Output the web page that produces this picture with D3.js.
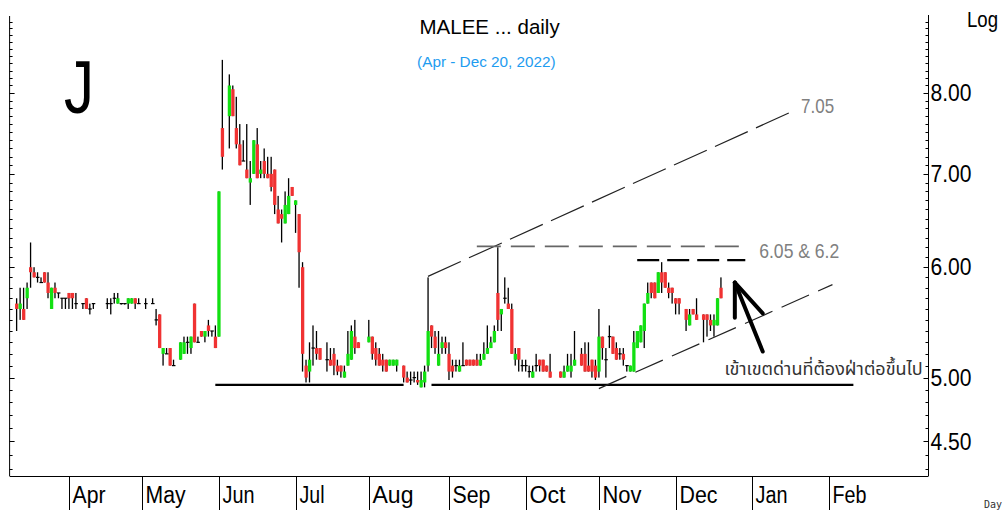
<!DOCTYPE html>
<html><head><meta charset="utf-8">
<script src="https://cdn.jsdelivr.net/npm/d3@7"></script>
<style>body{margin:0;background:#fff;} svg{display:block;}</style>
</head><body>
<svg id="c" width="1004" height="510"></svg>
<script>
// ---------- data ----------
const dates = ["2022-03-11","2022-03-14","2022-03-15","2022-03-16","2022-03-17","2022-03-18","2022-03-21","2022-03-22","2022-03-23","2022-03-24","2022-03-25","2022-03-28","2022-03-29","2022-03-30","2022-03-31","2022-04-01","2022-04-04","2022-04-05","2022-04-07","2022-04-08","2022-04-11","2022-04-12","2022-04-18","2022-04-19","2022-04-20","2022-04-21","2022-04-22","2022-04-25","2022-04-26","2022-04-27","2022-04-28","2022-04-29","2022-05-03","2022-05-05","2022-05-06","2022-05-09","2022-05-10","2022-05-11","2022-05-12","2022-05-13","2022-05-17","2022-05-18","2022-05-19","2022-05-20","2022-05-23","2022-05-24","2022-05-25","2022-05-26","2022-05-27","2022-05-30","2022-05-31","2022-06-01","2022-06-02","2022-06-06","2022-06-07","2022-06-08","2022-06-09","2022-06-10","2022-06-13","2022-06-14","2022-06-15","2022-06-16","2022-06-17","2022-06-20","2022-06-21","2022-06-22","2022-06-23","2022-06-24","2022-06-27","2022-06-28","2022-06-29","2022-06-30","2022-07-01","2022-07-04","2022-07-05","2022-07-06","2022-07-07","2022-07-08","2022-07-11","2022-07-12","2022-07-14","2022-07-15","2022-07-18","2022-07-19","2022-07-20","2022-07-21","2022-07-22","2022-07-25","2022-07-26","2022-07-27","2022-08-01","2022-08-02","2022-08-03","2022-08-04","2022-08-05","2022-08-08","2022-08-09","2022-08-10","2022-08-11","2022-08-15","2022-08-16","2022-08-17","2022-08-18","2022-08-19","2022-08-22","2022-08-23","2022-08-24","2022-08-25","2022-08-26","2022-08-29","2022-08-30","2022-08-31","2022-09-01","2022-09-02","2022-09-05","2022-09-06","2022-09-07","2022-09-08","2022-09-09","2022-09-12","2022-09-13","2022-09-14","2022-09-15","2022-09-16","2022-09-19","2022-09-20","2022-09-21","2022-09-22","2022-09-23","2022-09-26","2022-09-27","2022-09-28","2022-09-29","2022-09-30","2022-10-03","2022-10-04","2022-10-05","2022-10-06","2022-10-07","2022-10-10","2022-10-11","2022-10-12","2022-10-17","2022-10-18","2022-10-19","2022-10-20","2022-10-21","2022-10-25","2022-10-26","2022-10-27","2022-10-28","2022-10-31","2022-11-01","2022-11-02","2022-11-03","2022-11-04","2022-11-07","2022-11-08","2022-11-09","2022-11-10","2022-11-11","2022-11-14","2022-11-15","2022-11-16","2022-11-17","2022-11-18","2022-11-21","2022-11-22","2022-11-23","2022-11-24","2022-11-25","2022-11-28","2022-11-29","2022-11-30","2022-12-01","2022-12-02","2022-12-06","2022-12-07","2022-12-08","2022-12-09","2022-12-13","2022-12-14","2022-12-15","2022-12-16","2022-12-19","2022-12-20"];
const open  = [5.65,5.60,5.60,5.70,6.00,5.95,5.90,5.85,5.95,5.85,5.60,5.80,5.75,5.70,5.70,5.75,5.75,5.65,5.65,5.70,5.60,5.65,5.65,5.65,5.70,5.65,5.65,5.65,5.65,5.65,5.70,5.65,5.65,5.65,5.50,5.55,5.20,5.20,5.25,5.10,5.15,5.20,5.30,5.25,5.65,5.30,5.40,5.35,5.45,5.40,5.35,5.35,7.55,7.70,8.05,7.55,7.35,7.15,7.05,6.90,7.00,7.35,7.00,7.15,7.00,7.00,7.05,6.60,6.55,6.45,6.55,6.85,6.65,6.55,6.00,5.10,5.05,5.25,5.25,5.25,5.15,5.15,5.20,5.10,5.10,5.00,5.10,5.15,5.35,5.30,5.30,5.35,5.25,5.20,5.15,5.15,5.10,5.10,5.10,5.10,5.00,4.98,5.00,4.98,4.92,4.96,5.10,5.45,5.35,5.10,5.25,5.30,5.20,5.10,5.10,5.05,5.10,5.15,5.15,5.15,5.15,5.10,5.15,5.20,5.25,5.30,5.75,5.55,5.70,5.65,5.60,5.15,5.25,5.10,5.10,5.05,5.00,5.10,5.15,5.15,5.10,5.05,5.05,5.00,5.05,5.05,5.10,5.20,5.20,5.10,5.15,5.10,5.05,5.35,5.15,5.35,5.35,5.25,5.20,5.20,5.10,5.05,5.05,5.25,5.30,5.40,5.65,5.85,5.85,5.75,5.95,5.95,5.80,5.80,5.70,5.70,5.60,5.45,5.60,5.55,5.55,5.55,5.50,5.45,5.45,5.80];
const high  = [5.70,5.80,5.80,5.85,6.25,6.00,5.95,5.90,5.95,5.95,5.80,5.85,5.75,5.70,5.70,5.75,5.75,5.75,5.65,5.70,5.65,5.65,5.70,5.70,5.75,5.75,5.65,5.65,5.70,5.70,5.70,5.70,5.70,5.70,5.60,5.55,5.25,5.25,5.25,5.15,5.30,5.35,5.35,5.35,5.65,5.35,5.40,5.40,5.50,5.40,5.45,6.80,8.45,8.25,8.10,7.95,7.60,7.40,7.60,7.15,7.40,7.55,7.15,7.30,7.20,7.20,7.05,6.75,6.60,6.80,6.95,6.85,6.70,6.55,6.05,5.15,5.30,5.45,5.40,5.25,5.30,5.25,5.25,5.15,5.10,5.10,5.40,5.45,5.50,5.30,5.50,5.35,5.30,5.25,5.20,5.15,5.15,5.15,5.15,5.10,5.05,5.05,5.05,5.05,5.05,5.10,5.90,5.45,5.40,5.40,5.35,5.35,5.30,5.15,5.15,5.15,5.30,5.15,5.15,5.15,5.20,5.20,5.30,5.45,5.35,5.45,6.20,5.60,5.90,5.80,5.65,5.25,5.25,5.15,5.15,5.10,5.10,5.20,5.15,5.15,5.10,5.20,5.05,5.10,5.20,5.20,5.40,5.25,5.30,5.30,5.15,5.15,5.60,5.35,5.25,5.45,5.35,5.30,5.25,5.25,5.10,5.10,5.40,5.40,5.45,5.65,5.85,5.85,5.85,5.95,6.05,5.95,5.85,5.80,5.70,5.70,5.60,5.60,5.60,5.70,5.55,5.55,5.55,5.55,5.70,5.90];
const low   = [5.40,5.50,5.50,5.60,5.80,5.90,5.85,5.85,5.85,5.70,5.60,5.70,5.70,5.60,5.60,5.60,5.60,5.60,5.60,5.60,5.55,5.60,5.60,5.55,5.65,5.65,5.65,5.65,5.60,5.65,5.60,5.65,5.60,5.65,5.45,5.25,5.10,5.20,5.10,5.10,5.15,5.20,5.20,5.20,5.30,5.30,5.35,5.30,5.35,5.35,5.25,5.35,7.05,7.30,7.70,7.30,7.10,7.15,6.95,6.65,7.00,6.95,6.95,6.95,6.95,6.80,6.55,6.45,6.25,6.45,6.55,6.75,6.35,5.80,5.05,4.96,4.96,5.10,5.15,5.15,5.05,5.10,5.02,5.02,5.00,5.00,5.10,5.15,5.20,5.25,5.30,5.15,5.10,5.10,5.05,5.05,5.10,5.10,5.05,4.96,4.96,4.94,4.96,4.94,4.92,4.92,5.05,5.25,5.20,5.10,5.20,5.20,4.98,5.00,5.05,5.05,5.10,5.10,5.10,5.10,5.10,5.10,5.15,5.20,5.25,5.30,5.40,5.40,5.65,5.60,5.20,5.10,5.05,5.05,5.05,5.00,5.00,5.05,5.05,5.05,5.05,5.00,5.00,5.00,5.05,5.00,5.10,5.10,5.05,5.05,5.00,4.98,5.00,5.15,5.00,5.25,5.20,5.15,5.15,5.10,5.05,5.05,5.05,5.25,5.30,5.25,5.65,5.70,5.70,5.75,5.75,5.80,5.70,5.65,5.55,5.55,5.40,5.45,5.55,5.50,5.30,5.35,5.40,5.35,5.45,5.70];
const close = [5.60,5.65,5.50,5.80,5.95,5.90,5.90,5.85,5.85,5.75,5.80,5.75,5.75,5.70,5.70,5.70,5.70,5.65,5.65,5.60,5.60,5.65,5.65,5.65,5.70,5.70,5.65,5.65,5.70,5.70,5.65,5.65,5.65,5.65,5.50,5.25,5.25,5.20,5.10,5.10,5.30,5.30,5.30,5.35,5.30,5.30,5.35,5.40,5.40,5.40,5.25,6.80,7.20,8.10,7.70,7.35,7.10,7.15,6.95,6.95,7.40,6.95,7.05,7.00,6.95,6.85,6.65,6.45,6.50,6.65,6.75,6.75,6.70,6.15,5.20,5.00,5.15,5.25,5.20,5.15,5.15,5.10,5.10,5.05,5.05,5.05,5.20,5.40,5.25,5.25,5.35,5.20,5.15,5.10,5.10,5.05,5.15,5.15,5.15,5.00,4.96,4.98,5.00,4.96,4.98,5.05,5.40,5.35,5.25,5.20,5.30,5.25,5.05,5.05,5.10,5.10,5.10,5.10,5.10,5.10,5.10,5.15,5.20,5.25,5.30,5.40,5.50,5.60,5.70,5.60,5.20,5.20,5.15,5.10,5.10,5.05,5.05,5.10,5.10,5.05,5.05,5.00,5.00,5.05,5.10,5.10,5.15,5.10,5.05,5.05,5.05,5.00,5.35,5.25,5.15,5.35,5.20,5.15,5.20,5.15,5.10,5.10,5.30,5.40,5.45,5.65,5.75,5.75,5.70,5.95,5.85,5.80,5.75,5.75,5.65,5.65,5.50,5.55,5.55,5.50,5.50,5.50,5.45,5.50,5.70,5.70];

const priceLabels = [4.5, 5, 6, 7, 8];
const priceLabelText = ["4.50", "5.00", "6.00", "7.00", "8.00"];
const minorTicks = d3.range(43, 91).map(v => v / 10);
const monthStarts = ["2022-04-01","2022-05-01","2022-06-01","2022-07-01","2022-08-01","2022-09-01","2022-10-01","2022-11-01","2022-12-01","2023-01-01","2023-02-01"];
const monthNames = ["Apr","May","Jun","Jul","Aug","Sep","Oct","Nov","Dec","Jan","Feb"];
const monthLabelWidths = [33, 40, 32, 25, 41, 38, 36, 39, 38, 32, 34];

// annotation lines (date, price)
const supportSegments = [[["2022-05-31",4.94],["2022-08-15",4.94]], [["2022-08-25",4.94],["2023-02-10",4.94]]];
const upperChannel = [["2022-08-24",5.91],["2023-01-17",7.75]];
const lowerChannel = [["2022-11-01",4.91],["2023-02-02",5.83]];
const resistance62 = [["2022-09-13",6.21],["2022-12-29",6.21]];
const resistance605 = [["2022-11-16",6.07],["2022-12-29",6.07]];
const arrowParts = [[["2023-01-05",5.22],["2022-12-26",5.85]], [["2022-12-26",5.85],["2022-12-26",5.52]], [["2022-12-26",5.85],["2023-01-05",5.56]]];

// ---------- scales ----------
const parse = d3.utcParse("%Y-%m-%d");
const origin = parse("2022-03-09");
function wIdx(s) {
  const d = parse(s);
  return d3.utcDays(origin, d).filter(t => t.getUTCDay() !== 0 && t.getUTCDay() !== 6).length;
}
const L = 9.6, R = 928.5, T = 15, B = 476;
const x = d3.scaleLinear().domain([0, 263.4]).range([L, 928]);
const y = d3.scaleLog().domain([4.25, 9.1]).range([B, T]);

const svg = d3.select("#c");
const SANS = "'Liberation Sans',Arial,sans-serif";

// frame
svg.append("line").attr("x1", L).attr("x2", L).attr("y1", T + 1).attr("y2", B).attr("stroke", "#000");
svg.append("line").attr("x1", R).attr("x2", R).attr("y1", T).attr("y2", B).attr("stroke", "#000");
svg.append("line").attr("x1", L).attr("x2", R).attr("y1", B + 0.5).attr("y2", B + 0.5).attr("stroke", "#000");

// ticks
const tg = svg.append("g").attr("stroke", "#000").attr("stroke-width", 1);
minorTicks.forEach(v => {
  const yy = Math.round(y(v)) + 0.5;
  const major = priceLabels.some(p => Math.abs(p - v) < 1e-6);
  tg.append("line").attr("x1", R - (major ? 5 : 3)).attr("x2", R).attr("y1", yy).attr("y2", yy);
  tg.append("line").attr("x1", L).attr("x2", L + (major ? 5 : 3)).attr("y1", yy).attr("y2", yy);
});
svg.append("g").selectAll("text").data(priceLabels).join("text")
  .attr("x", R + 2).attr("y", d => y(d)).attr("dy", "0.36em")
  .attr("font-family", SANS).attr("font-size", 23)
  .attr("textLength", 41).attr("lengthAdjust", "spacingAndGlyphs").attr("fill", "#000")
  .text((d, i) => priceLabelText[i]);
svg.append("text").attr("x", 967).attr("y", 27).attr("font-family", SANS).attr("font-size", 22)
  .attr("textLength", 31).attr("lengthAdjust", "spacingAndGlyphs").text("Log");

// months
const mg = svg.append("g");
monthStarts.forEach((m, i) => {
  const xx = Math.round(x(wIdx(m))) + 0.5;
  mg.append("line").attr("x1", xx).attr("x2", xx).attr("y1", B).attr("y2", 510).attr("stroke", "#000");
  mg.append("text").attr("x", xx + 3).attr("y", 503).attr("font-family", SANS).attr("font-size", 23)
    .attr("textLength", monthLabelWidths[i]).attr("lengthAdjust", "spacingAndGlyphs").text(monthNames[i]);
});
svg.append("text").attr("x", 984).attr("y", 508).attr("font-family", "'DejaVu Sans Mono',monospace").attr("font-size", 10).attr("fill", "#333").text("Day");

// titles
svg.append("text").attr("x", 489.6).attr("y", 33.5).attr("text-anchor", "middle").attr("font-family", SANS).attr("font-size", 20.5).text("MALEE ... daily");
svg.append("text").attr("x", 486.4).attr("y", 66.5).attr("text-anchor", "middle").attr("font-family", SANS).attr("font-size", 15.3).attr("fill", "#1e9cf0").text("(Apr - Dec 20, 2022)");
svg.append("text").attr("x", 64).attr("y", 113).attr("font-family", SANS).attr("font-size", 74)
  .attr("textLength", 30).attr("lengthAdjust", "spacingAndGlyphs").text("J");

// annotations
const P = p => [x(wIdx(p[0])), y(p[1])];
const line = d3.line().x(d => P(d)[0]).y(d => P(d)[1]);
const ag = svg.append("g").attr("fill", "none");
supportSegments.forEach(s => ag.append("path").attr("d", line(s)).attr("stroke", "#000").attr("stroke-width", 2.4));
ag.append("path").attr("d", line(upperChannel)).attr("stroke", "#222").attr("stroke-width", 1.2).attr("stroke-dasharray", "36 9");
ag.append("path").attr("d", line(lowerChannel)).attr("stroke", "#222").attr("stroke-width", 1.2).attr("stroke-dasharray", "30 10");
ag.append("path").attr("d", line(resistance62)).attr("stroke", "#666").attr("stroke-width", 1.6).attr("stroke-dasharray", "24 10");
ag.append("path").attr("d", line(resistance605)).attr("stroke", "#000").attr("stroke-width", 2.2).attr("stroke-dasharray", "22 8");
arrowParts.forEach(s => ag.append("path").attr("d", line(s)).attr("stroke", "#000").attr("stroke-width", 4).attr("stroke-linecap", "round"));

svg.append("text").attr("x", x(wIdx("2023-01-20"))).attr("y", y(7.74)).attr("font-family", SANS).attr("font-size", 21)
  .attr("textLength", 33).attr("lengthAdjust", "spacingAndGlyphs").attr("fill", "#808080").text("7.05");
svg.append("text").attr("x", x(wIdx("2023-01-04"))).attr("y", y(6.09)).attr("font-family", SANS).attr("font-size", 21)
  .attr("textLength", 80).attr("lengthAdjust", "spacingAndGlyphs").attr("fill", "#808080").text("6.05 & 6.2");
svg.append("text").attr("x", x(wIdx("2022-12-21"))).attr("y", y(5.02)).attr("font-family", "'Noto Sans Thai','Noto Sans',sans-serif").attr("font-size", 18).attr("fill", "#333").text("เข้าเขตด่านที่ต้องฝ่าต่อขึ้นไป");

// candles
const bars = dates.map((d, i) => ({i: wIdx(d), o: open[i], h: high[i], l: low[i], c: close[i]}));
const cg = svg.append("g");
cg.selectAll("rect.w").data(bars).join("rect").attr("class", "w")
  .attr("x", d => x(d.i) - 0.6).attr("width", 1.3)
  .attr("y", d => y(d.h)).attr("height", d => Math.max(1, y(d.l) - y(d.h))).attr("fill", "#000");
cg.selectAll("rect.b").data(bars.filter(d => d.o !== d.c)).join("rect").attr("class", "b")
  .attr("x", d => x(d.i) - 1.5).attr("width", 3.3)
  .attr("y", d => y(Math.max(d.o, d.c))).attr("height", d => Math.max(1.5, Math.abs(y(d.o) - y(d.c))))
  .attr("fill", d => d.c > d.o ? "#12e012" : "#f03232");
cg.selectAll("line.t").data(bars.filter(d => d.o === d.c)).join("line").attr("class", "t")
  .attr("x1", d => x(d.i) - 1.5).attr("x2", d => x(d.i) + 2)
  .attr("y1", d => y(d.c)).attr("y2", d => y(d.c)).attr("stroke", "#000").attr("stroke-width", 1.2);
</script>
</body></html>
